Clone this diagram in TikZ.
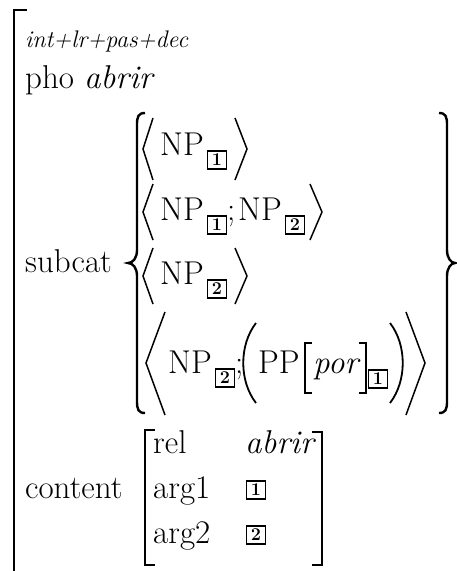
\documentclass[tikz,border=0pt]{standalone}
\usepackage{fontspec}
\begin{document}
\begin{tikzpicture}[x=1pt,y=-1pt,
  txt/.style={inner sep=0pt, anchor=base west, font=\fontsize{33}{36}\selectfont},
  ittxt/.style={txt, font=\fontsize{33}{36}\selectfont\itshape},
  smalltxt/.style={inner sep=0pt, anchor=base west, font=\fontsize{24}{26}\selectfont\itshape},
  tag/.style={draw, line width=1.5pt, minimum width=19pt, minimum height=18pt, inner sep=0pt, font=\fontsize{18}{18}\selectfont\bfseries},
  brk/.style={line width=2.4pt, line join=miter},
  ibrk/.style={line width=2pt, line join=miter},
  ang/.style={line width=1.5pt, line join=miter},
  par/.style={line width=1.8pt}]
\useasboundingbox (0,0) rectangle (457,571);
% outer bracket
\draw[brk] (27,10) -- (14,10) -- (14,575);
\node[smalltxt] (feat) at (25,47) {int+lr+pas+dec};
\node[txt] (pho) at (25,88) {pho \textit{abrir}};
% subcat
\node[txt] (subcat) at (25,272) {subcat};
\draw[brk] (145,113) .. controls (138,113) and (137,117) .. (137,125) -- (137,250)
  .. controls (137,258) and (133,263) .. (128,263)
  .. controls (133,263) and (137,268) .. (137,276) -- (137,401)
  .. controls (137,409) and (138,413) .. (145,413);
\draw[brk] (439,113) .. controls (446,113) and (447,117) .. (447,125) -- (447,250)
  .. controls (447,258) and (451,263) .. (455,263)
  .. controls (451,263) and (447,268) .. (447,276) -- (447,401)
  .. controls (447,409) and (446,413) .. (439,413);
% row 1
\draw[ang] (153,118) -- (143,149) -- (153,180);
\node[txt] (r1np) at (160,155) {NP};
\node[tag] (r1t) at (217,160) {1};
\draw[ang] (235,118) -- (247,149) -- (235,180);
% row 2
\draw[ang] (153,184) -- (143,212) -- (153,240);
\node[txt] (r2np) at (160,220) {NP};
\node[tag] (r2t) at (217,225) {1};
\node[txt] (r2sep) at (227,220) {;};
\node[txt] (r2npb) at (238,220) {NP};
\node[tag] (r2tb) at (295,225) {2};
\draw[ang] (310,184) -- (322,212) -- (310,240);
% row 3
\draw[ang] (153,248) -- (143,276) -- (153,304);
\node[txt] (r3np) at (160,284) {NP};
\node[tag] (r3t) at (217,289) {2};
\draw[ang] (235,248) -- (247,276) -- (235,304);
% row 4
\draw[ang] (165,312) -- (146,363) -- (165,415);
\node[txt] (r4np) at (168,373) {NP};
\node[tag] (r4t) at (225,378) {2};
\node[txt] (r4sep) at (235,373) {;};
\draw[par] (256,323) .. controls (239,345) and (239,381) .. (256,403);
\node[txt] (r4pp) at (258,373) {PP};
\draw[ibrk] (312,343) -- (305,343) -- (305,393) -- (312,393);
\node[ittxt] (r4por) at (313,373) {por};
\draw[ibrk] (359,343) -- (366,343) -- (366,393) -- (359,393);
\node[tag] (r4tb) at (378,379) {1};
\draw[par] (390,323) .. controls (407,345) and (407,381) .. (390,403);
\draw[ang] (406,312) -- (425,363) -- (406,415);
% content
\node[txt] (content) at (25,498) {content};
\draw[ibrk] (155,430) -- (145,430) -- (145,565) -- (155,565);
\draw[ibrk] (312,432) -- (322,432) -- (322,565) -- (312,565);
\node[txt] (rel) at (153,453) {rel};
\node[ittxt] (relv) at (245,453) {abrir};
\node[txt] (arga) at (153,498) {arg1};
\node[tag] (argat) at (256,490) {1};
\node[txt] (argb) at (153,543) {arg2};
\node[tag] (argbt) at (256,535) {2};
\end{tikzpicture}
\end{document}
